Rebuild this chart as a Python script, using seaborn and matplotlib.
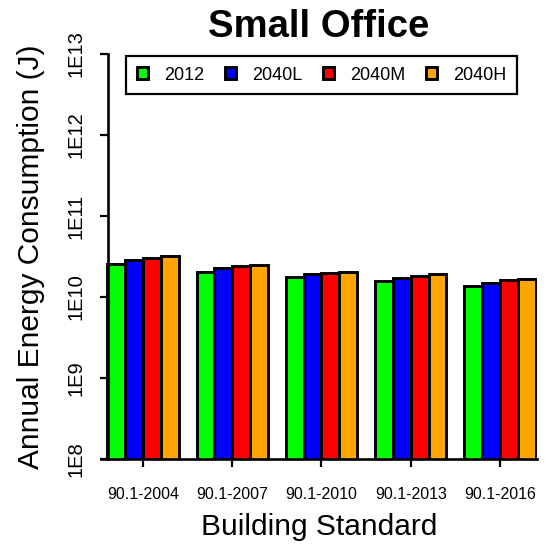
import pandas as pd
import seaborn as sns
import matplotlib
matplotlib.use("Agg")
import matplotlib.pyplot as plt

standards = ["90.1-2004", "90.1-2007", "90.1-2010", "90.1-2013", "90.1-2016"]
scenarios = ["2012", "2040L", "2040M", "2040H"]
e2012 = [2.57e10, 2.05e10, 1.75e10, 1.56e10, 1.36e10]
e2040L = [2.90e10, 2.26e10, 1.90e10, 1.70e10, 1.50e10]
e2040M = [3.06e10, 2.41e10, 1.97e10, 1.81e10, 1.60e10]
e2040H = [3.23e10, 2.51e10, 2.05e10, 1.90e10, 1.68e10]
colors = ["#00FF00", "#0000FF", "#FF0000", "#FFA500"]
ytick_vals = [1e8, 1e9, 1e10, 1e11, 1e12, 1e13]
ytick_labels = ["1E8", "1E9", "1E10", "1E11", "1E12", "1E13"]

rows = []
for name, vals in zip(scenarios, [e2012, e2040L, e2040M, e2040H]):
    for std, v in zip(standards, vals):
        rows.append([std, name, v])
df = pd.DataFrame(rows, columns=["standard", "scenario", "energy"])

sns.set_style("white")
plt.rcParams['font.family'] = ['Liberation Sans', 'DejaVu Sans']
plt.rcParams['text.color'] = 'black'
plt.rcParams['axes.labelcolor'] = 'black'
plt.rcParams['xtick.color'] = 'black'
plt.rcParams['ytick.color'] = 'black'

fig = plt.figure(figsize=(5.5, 5.48), dpi=100)
W, H = 550, 548
left, right, bottom, top = 101, 537, 459, 54
ax = fig.add_axes([left / W, 1 - bottom / H, (right - left) / W, (bottom - top) / H])

sns.barplot(data=df, x="standard", y="energy", hue="scenario",
            order=standards, hue_order=scenarios, palette=colors,
            saturation=1, errorbar=None, width=0.8,
            edgecolor="black", linewidth=2.1, ax=ax)

ax.set_yscale("log")
ax.set_ylim(1e8, 1e13)
ax.set_xlim(-0.4706, 4.4146)
ax.set_yticks(ytick_vals)
ax.set_yticklabels(ytick_labels)
ax.yaxis.set_minor_locator(matplotlib.ticker.NullLocator())

for s in ["top", "right"]:
    ax.spines[s].set_visible(False)
for s in ["left", "bottom"]:
    ax.spines[s].set_linewidth(1.9)
    ax.spines[s].set_color("black")
ax.spines["left"].set_position(("axes", 7 / (right - left)))

ax.tick_params(axis="y", length=6, width=1.6, direction="out", left=True,
               labelsize=14.5, pad=10, labelrotation=90)
for lab in ax.get_yticklabels():
    lab.set_va("center")
ax.tick_params(axis="x", length=6, width=1.6, direction="out", bottom=True,
               labelsize=11.5, pad=14)

ax.set_xlabel("Building Standard", fontsize=21.5)
ax.set_ylabel("Annual Energy Consumption (J)", fontsize=21.5)
ax.xaxis.set_label_coords(0.5, (bottom - 527) / (bottom - top))
ax.xaxis.label.set_va("center")
ax.yaxis.set_label_coords((31 - left) / (right - left), 0.5)
ax.yaxis.label.set_va("center")

ax.set_title("Small Office", fontsize=27.5, fontweight="bold",
             y=(bottom - 35) / (bottom - top), va="center")

handles, labels = ax.get_legend_handles_labels()
ax.legend(handles, labels, ncol=4, loc="center", mode="expand",
          bbox_to_anchor=((126 - left) / (right - left), (bottom - 95) / (bottom - top),
                          391 / (right - left), 40 / (bottom - top)),
          fontsize=13, frameon=True, fancybox=False, edgecolor="black",
          framealpha=1, handlelength=0.6, handleheight=0.6, handletextpad=0.9,
          borderpad=0.6, borderaxespad=0, columnspacing=1.5)
ax.get_legend().get_frame().set_linewidth(1.6)

fig.savefig("out.png", dpi=100)
